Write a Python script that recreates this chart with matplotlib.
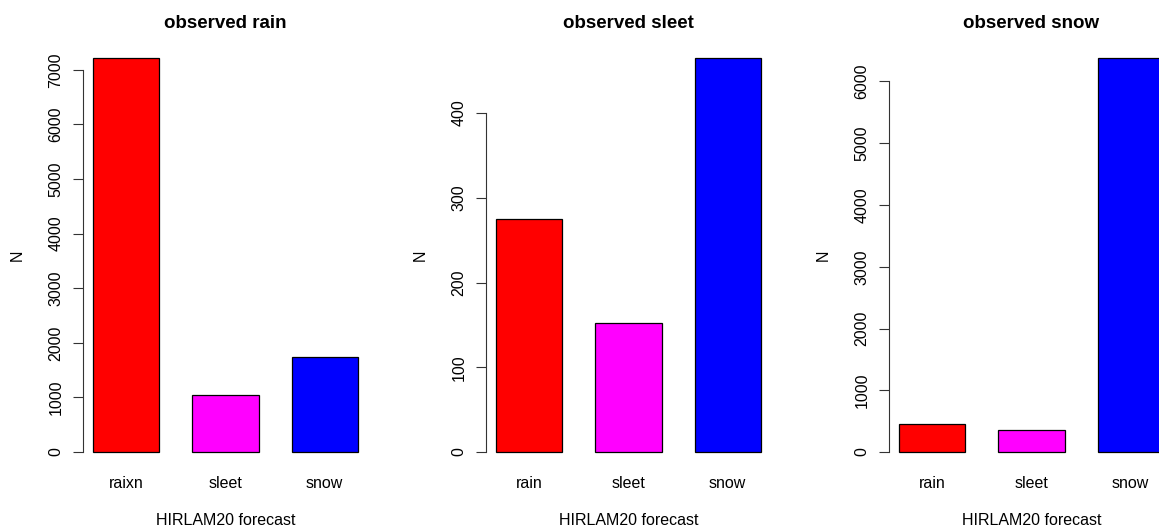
import numpy as np
import matplotlib
matplotlib.use("Agg")
import matplotlib.pyplot as plt

plt.rcParams['font.family'] = ['Liberation Sans', 'DejaVu Sans']

categories = ["rain", "sleet", "snow"]
labels_rain = ["raixn", "sleet", "snow"]   # typo is in the original
titles = ["observed rain", "observed sleet", "observed snow"]
obs_rain = [7216, 1044, 1740]
obs_sleet = [275, 152, 465]
obs_snow = [454, 357, 6381]
yticks_list = [np.arange(0, 7001, 1000), np.arange(0, 401, 100), np.arange(0, 6001, 1000)]
colors = ["#ff0000", "#ff00ff", "#0000ff"]

W, H = 1159, 529
fig = plt.figure(figsize=(W / 100, H / 100), dpi=100)

panels = [(obs_rain, labels_rain), (obs_sleet, categories), (obs_snow, categories)]
x = np.arange(3) * 1.5
for i, (vals, labs) in enumerate(panels):
    left = (82.7 + 403 * i) / W
    ax = fig.add_axes([left, (H - 467.8) / H, 285.6 / W, 425.6 / H])
    ax.bar(x, vals, width=1.0, color=colors, edgecolor="black", linewidth=0.9)
    vmax = max(vals)
    ax.set_ylim(-0.04 * vmax, 1.04 * vmax)
    ax.set_xlim(-0.5 - 0.16, 3.5 + 0.16)
    for s in ["top", "right", "bottom"]:
        ax.spines[s].set_visible(False)
    yt = yticks_list[i]
    ax.spines["left"].set_bounds(yt[0], yt[-1])
    ax.spines["left"].set_linewidth(0.8)
    ax.spines["left"].set_color("#333333")
    ax.set_yticks(yt)
    ax.set_yticklabels([str(v) for v in yt], rotation=90, va="center")
    ax.tick_params(axis="y", length=7, width=0.8, color="#333333", pad=7, labelsize=11.5)
    ax.set_xticks(x)
    ax.set_xticklabels(labs)
    ax.tick_params(axis="x", length=0, pad=6, labelsize=11.5)
    ax.set_xlabel("HIRLAM20 forecast", fontsize=11.5, labelpad=16)
    ax.set_ylabel("N", fontsize=11.5, labelpad=17)
    ax.set_title(titles[i], fontsize=13.5, fontweight="bold", pad=10)

fig.savefig("out.png", dpi=100)
